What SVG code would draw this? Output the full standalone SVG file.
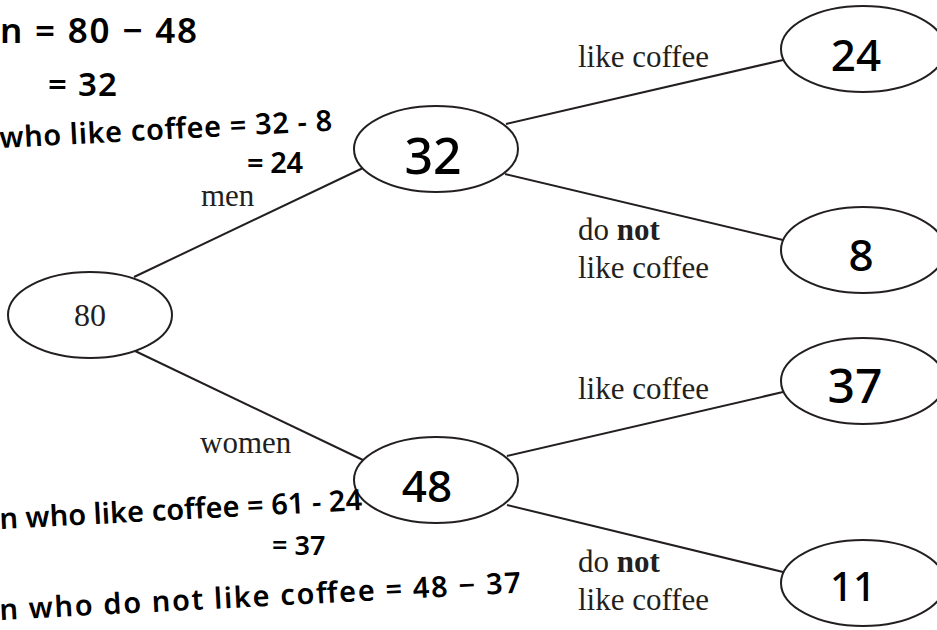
<svg xmlns="http://www.w3.org/2000/svg" width="937" height="630" viewBox="0 0 937 630">
  <style>
    .node { fill: #ffffff; stroke: #231f20; stroke-width: 2; }
    .edge { stroke: #231f20; stroke-width: 2; fill: none; }
    .lbl { font-family: "Liberation Serif", "Times New Roman", serif; font-size: 31px; fill: #231f20; }
    .hand { font-family: "Noto Sans", "DejaVu Sans", sans-serif; font-weight: 600; fill: #000000; }
    .num { font-family: "Noto Sans", "DejaVu Sans", sans-serif; font-weight: 500; fill: #000000; text-anchor: middle; }
  </style>
  <rect width="937" height="630" fill="#ffffff"/>

  <!-- branches -->
  <g id="connectors">
    <line class="edge" x1="134" y1="277" x2="363" y2="168"/>
    <line class="edge" x1="133" y1="350" x2="363" y2="460"/>
    <line class="edge" x1="506" y1="124" x2="783" y2="60"/>
    <line class="edge" x1="505" y1="174" x2="783" y2="240"/>
    <line class="edge" x1="507" y1="456" x2="783" y2="392"/>
    <line class="edge" x1="507" y1="505" x2="783" y2="572"/>
  </g>

  <!-- branch labels -->
  <g id="labels">
    <text class="lbl" x="201" y="206">men</text>
    <text class="lbl" x="200" y="453">women</text>
    <text class="lbl" x="578" y="67">like coffee</text>
    <text class="lbl" x="578" y="240">do <tspan font-weight="bold">not</tspan></text>
    <text class="lbl" x="578" y="278">like coffee</text>
    <text class="lbl" x="578" y="399">like coffee</text>
    <text class="lbl" x="578" y="572">do <tspan font-weight="bold">not</tspan></text>
    <text class="lbl" x="578" y="610">like coffee</text>
  </g>

  <!-- tree nodes -->
  <g id="node-total">
    <ellipse class="node" cx="90" cy="315" rx="82" ry="43"/>
    <text class="lbl" x="90" y="326" text-anchor="middle" style="font-size:32px">80</text>
  </g>
  <g id="node-men">
    <ellipse class="node" cx="436" cy="149" rx="82" ry="43"/>
    <text class="num" x="433" y="174" font-size="50">32</text>
  </g>
  <g id="node-women">
    <ellipse class="node" cx="436" cy="480" rx="82" ry="43"/>
    <text class="num" x="427" y="502" font-size="44">48</text>
  </g>
  <g id="node-men-like">
    <ellipse class="node" cx="863" cy="49" rx="82" ry="43"/>
    <text class="num" x="856" y="71" font-size="44">24</text>
  </g>
  <g id="node-men-not">
    <ellipse class="node" cx="863" cy="250" rx="82" ry="43"/>
    <text class="num" x="861" y="271" font-size="44">8</text>
  </g>
  <g id="node-women-like">
    <ellipse class="node" cx="863" cy="381" rx="82" ry="43"/>
    <text class="num" x="855" y="403" font-size="48">37</text>
  </g>
  <g id="node-women-not">
    <ellipse class="node" cx="863" cy="583" rx="82" ry="43"/>
    <text class="num" x="853" y="601" font-size="40">11</text>
  </g>

  <!-- working notes -->
  <g id="notes">
    <text class="hand" x="0" y="43" font-size="35" textLength="197" lengthAdjust="spacing">n = 80 − 48</text>
    <text class="hand" x="48" y="96" font-size="33" textLength="69" lengthAdjust="spacing">= 32</text>
    <text class="hand" x="0" y="148" font-size="29" textLength="333" lengthAdjust="spacing" transform="rotate(-3 0 148)">who like coffee = 32 - 8</text>
    <text class="hand" x="247" y="173" font-size="29" textLength="56" lengthAdjust="spacing">= 24</text>
    <text class="hand" x="0" y="529" font-size="29" textLength="363" lengthAdjust="spacing" transform="rotate(-3 0 529)">n who like coffee = 61 - 24</text>
    <text class="hand" x="272" y="555" font-size="27">= 37</text>
    <text class="hand" x="0" y="620" font-size="29" textLength="522" lengthAdjust="spacing" transform="rotate(-3 0 620)">n who do not like coffee = 48 − 37</text>
  </g>
</svg>
